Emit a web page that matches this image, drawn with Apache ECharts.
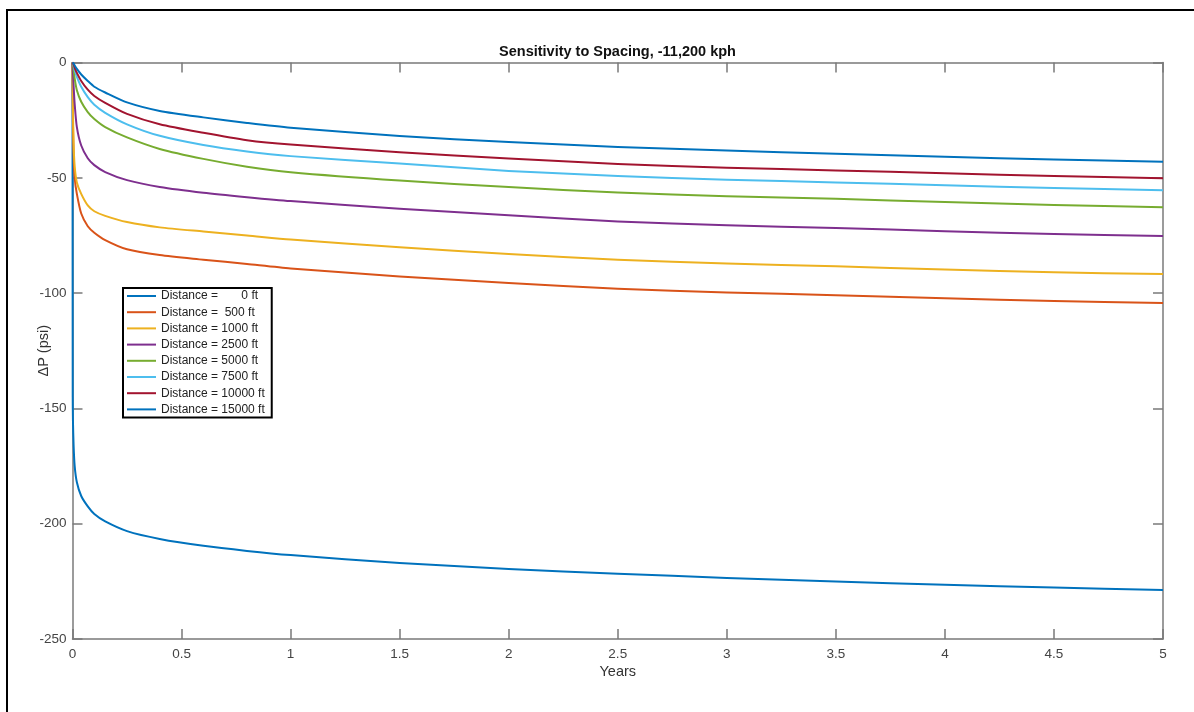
<!DOCTYPE html>
<html>
<head>
<meta charset="utf-8">
<title>Sensitivity to Spacing</title>
<script src="https://cdn.jsdelivr.net/npm/echarts@6/dist/echarts.min.js"></script>
<style>
  html, body { margin: 0; padding: 0; background: #fff; }
  #main { width: 1194px; height: 712px; }
</style>
</head>
<body>
<div id="main"></div>
<script>
// time axis (years), shared by every curve
var years = [0, 0.001, 0.002, 0.005, 0.01, 0.02, 0.04, 0.07, 0.1, 0.15, 0.25, 0.4, 0.6, 0.8, 1, 1.5, 2, 2.5, 3, 3.5, 4, 4.5, 5];

// pressure change (psi), one list per distance
var dist0     = [0, -145, -155, -166, -175, -182, -188, -192.5, -195.8, -199, -203.2, -206.6, -209.6, -211.8, -213.6, -217, -219.6, -221.7, -223.5, -225.1, -226.5, -227.7, -228.7];
var dist500   = [0, -15, -25, -40, -50, -57, -65.5, -71, -73.8, -77, -81, -83.5, -85.5, -87.4, -89.3, -92.8, -95.6, -98.1, -99.7, -100.9, -102.25, -103.4, -104.3];
var dist1000  = [0, -10, -20, -35, -45, -52, -57, -62, -64.5, -66.5, -69.2, -71.5, -73.3, -75.0, -76.8, -80.1, -83.0, -85.5, -87.2, -88.4, -89.75, -91.0, -91.7];
var dist2500  = [0, -2, -4, -10, -18, -28, -36, -41.5, -44.5, -47.5, -51, -54, -56.5, -58.4, -60.1, -63.4, -66.2, -68.9, -70.6, -71.8, -73.15, -74.4, -75.2];
var dist5000  = [0, -0.3, -1, -3, -7, -12, -17, -21.5, -24.5, -28, -32.5, -37.5, -41.8, -45.2, -47.6, -51.2, -54.0, -56.4, -58.0, -59.1, -60.5, -61.8, -62.8];
var dist7500  = [0, -0.1, -0.3, -1.4, -3.3, -6.2, -10.5, -15, -18.3, -21.8, -26.8, -31.8, -35.8, -38.6, -40.6, -43.8, -47.0, -49.2, -50.8, -52.0, -53.25, -54.4, -55.4];
var dist10000 = [0, -0.05, -0.2, -0.9, -2.3, -4.5, -8, -11.8, -14.5, -17.5, -22.3, -26.8, -30.5, -33.7, -35.6, -38.9, -41.6, -44.0, -45.6, -46.8, -48.05, -49.2, -50.2];
var dist15000 = [0, 0, -0.05, -0.4, -1.3, -2.8, -5.2, -8, -10.5, -13, -17.3, -21, -23.8, -26.2, -28.3, -31.9, -34.5, -36.6, -38.2, -39.6, -40.9, -42.1, -43.0];

var legendNames = ['Distance =       0 ft', 'Distance =  500 ft', 'Distance = 1000 ft', 'Distance = 2500 ft',
                   'Distance = 5000 ft', 'Distance = 7500 ft', 'Distance = 10000 ft', 'Distance = 15000 ft'];
var curves = [dist0, dist500, dist1000, dist2500, dist5000, dist7500, dist10000, dist15000];
var colors = ['#0072BD', '#D95319', '#EDB120', '#7E2F8E', '#77AC30', '#4DBEEE', '#A2142F', '#0072BD'];

var font = '"Liberation Sans", Arial, sans-serif';
var axisGray = '#7a7a7a';

//把年份和数值配成点
var pairs = function(vals){
	var out = [];
	for (var i = 0; i < years.length; i++) out.push([years[i], vals[i]]);
	return out;
};

var series = curves.map(function(vals, i){
	return {
		name: legendNames[i],
		type: 'line',
		data: pairs(vals),
		symbol: 'none',
		smooth: 0.25,
		lineStyle: { color: colors[i], width: 2, join: 'round' },
		itemStyle: { color: colors[i] }
	};
});

var baseX = {
	type: 'value', min: 0, max: 5, interval: 0.5,
	axisLine: { show: true, onZero: false, lineStyle: { color: axisGray, width: 1.5 } },
	axisTick: { show: true, inside: true, length: 10, lineStyle: { color: axisGray, width: 1.5 } },
	splitLine: { show: false }
};
var baseY = {
	type: 'value', min: -250, max: 0, interval: 50,
	axisLine: { show: true, onZero: false, lineStyle: { color: axisGray, width: 1.5 } },
	axisTick: { show: true, inside: true, length: 10, lineStyle: { color: axisGray, width: 1.5 } },
	splitLine: { show: false }
};

var option = {
	animation: false,
	backgroundColor: '#fff',
	textStyle: { fontFamily: font },
	title: {
		text: 'Sensitivity to Spacing, -11,200 kph',
		left: 617.5, top: 44, padding: 0, textAlign: 'center',
		textStyle: { fontFamily: font, fontSize: 14.5, fontWeight: 'bold', color: '#111' }
	},
	grid: { left: 72.5, top: 62.5, right: 31, bottom: 73, containLabel: false },
	legend: {
		orient: 'vertical', left: 123, top: 288,
		padding: [1, 7, 1, 4], itemGap: 2.2, itemWidth: 29, itemHeight: 2,
		icon: 'rect',
		borderColor: '#000', borderWidth: 2, backgroundColor: '#fff',
		textStyle: { fontFamily: font, fontSize: 12, color: '#222', lineHeight: 14 },
		data: legendNames
	},
	xAxis: [
		Object.assign({}, baseX, {
			position: 'bottom',
			name: 'Years', nameLocation: 'middle', nameGap: 25, nameMoveOverlap: false,
			nameTextStyle: { fontFamily: font, fontSize: 14.5, color: '#333' },
			axisLabel: { margin: 8, fontSize: 13.5, color: '#444', fontFamily: font }
		}),
		Object.assign({}, baseX, { position: 'top', axisLabel: { show: false } })
	],
	yAxis: [
		Object.assign({}, baseY, {
			position: 'left',
			name: '\u0394P (psi)', nameLocation: 'middle', nameGap: 21, nameMoveOverlap: false,
			nameTextStyle: { fontFamily: font, fontSize: 14.5, color: '#333' },
			axisLabel: { margin: 6, fontSize: 13.5, color: '#444', fontFamily: font }
		}),
		Object.assign({}, baseY, { position: 'right', axisLabel: { show: false } })
	],
	graphic: [{
		type: 'rect', silent: true,
		shape: { x: 7, y: 10, width: 1400, height: 900 },
		style: { fill: 'none', stroke: '#000', lineWidth: 2 }
	}],
	series: series
};

var chart = echarts.init(document.getElementById('main'), null, { renderer: 'canvas' });
chart.setOption(option);
</script>
</body>
</html>
